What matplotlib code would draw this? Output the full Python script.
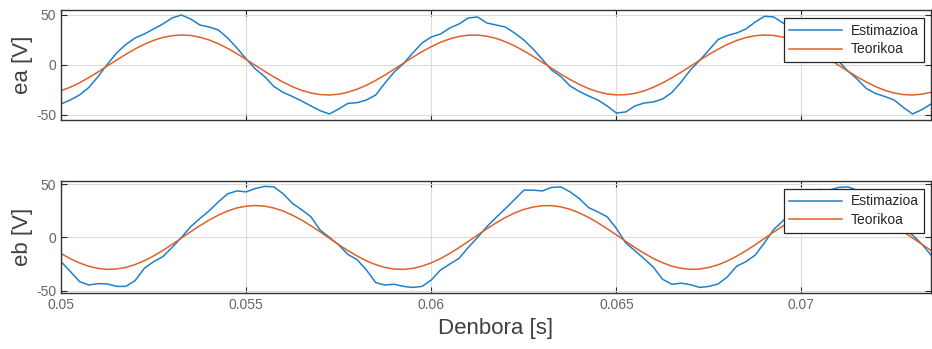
import numpy as np
import matplotlib
matplotlib.use('Agg')
import matplotlib.pyplot as plt

# time axis (s), step 0.25 ms
t_start = 0.05
t_step = 0.00025
n_pts = 95

ea_est = [-39, -35, -30, -22.5, -11.6, 0.7, 12, 20.5, 27, 31,
          36, 41, 47, 50, 46, 40, 38, 35, 27, 17,
          6, -4, -11.6, -21.5, -27.5, -31.5, -36, -41, -45.7, -49,
          -44, -38.4, -37.7, -35, -30, -18, -7, 1.3, 12, 22,
          28, 31, 37, 41, 47, 48, 42, 40, 38, 32,
          25, 16, 5.6, -5, -11.6, -21, -26.5, -31, -35, -41,
          -48, -47, -41, -38, -37, -34, -27.5, -17, -5, 4.6,
          15, 25.5, 29.5, 32, 36, 43, 48.7, 48, 42, 40,
          38, 32, 25, 15.5, 4, -6, -14, -23.5, -28.5, -31.5,
          -35, -42.4, -49, -44.7, -39]

ea_teo = [-25.7, -22.2, -17.8, -12.6, -7.0, -1.0, 4.9, 10.7, 16.0, 20.7,
          24.6, 27.5, 29.3, 30.0, 29.5, 27.8, 25.0, 21.2, 16.6, 11.3,
          5.6, -0.4, -6.3, -12.0, -17.2, -21.7, -25.4, -28.0, -29.6, -30.0,
          -29.2, -27.2, -24.2, -20.2, -15.4, -10.0, -4.2, 1.8, 7.7, 13.3,
          18.3, 22.7, 26.1, 28.5, 29.8, 29.9, 28.8, 26.6, 23.3, 19.1,
          14.1, 8.6, 2.7, -3.2, -9.1, -14.6, -19.5, -23.6, -26.8, -29.0,
          -29.9, -29.7, -28.4, -25.9, -22.3, -17.9, -12.8, -7.2, -1.3, 4.7,
          10.5, 15.8, 20.6, 24.5, 27.4, 29.3, 30.0, 29.5, 27.9, 25.1,
          21.3, 16.7, 11.5, 5.8, -0.2, -6.1, -11.8, -17.0, -21.6, -25.3,
          -28.0, -29.6, -30.0, -29.2, -27.3]

eb_est = [-22.8, -32, -41.5, -44.7, -43.4, -43.7, -46, -46, -40.6, -29,
          -22.8, -18, -9.4, 0, 10, 17.8, 25, 33.4, 41, 43.7,
          42.8, 46, 48, 47.5, 41, 32, 26, 19.4, 6.9, 0,
          -7, -16, -21, -30.6, -42.5, -44.7, -44, -46, -47, -46,
          -40, -30.6, -25, -19.7, -9.4, 0, 10, 18.8, 27, 35.6,
          44.4, 44.4, 43.7, 47, 47.5, 42.8, 36.5, 28, 24, 19.4,
          8.4, -5, -12.5, -20, -28, -39.4, -44, -43, -44.4, -47,
          -46, -43.7, -37, -27, -22.8, -16.6, -5, 7.5, 15.6, 24,
          33.4, 42.8, 45, 44.4, 47, 47.5, 44.4, 36.5, 28.8, 24,
          17.8, 8.4, 2.2, -6.2, -16.6]

eb_teo = [-15.1, -20.0, -24.0, -27.1, -29.1, -30.0, -29.6, -28.2, -25.5, -21.9,
          -17.4, -12.2, -6.6, -0.6, 5.3, 11.0, 16.3, 21.0, 24.8, 27.7,
          29.4, 30.0, 29.4, 27.6, 24.8, 20.9, 16.3, 10.9, 5.2, -0.8,
          -6.7, -12.4, -17.5, -22.0, -25.6, -28.2, -29.7, -30.0, -29.1, -27.0,
          -23.9, -19.9, -15.0, -9.6, -3.8, 2.2, 8.1, 13.6, 18.7, 23.0,
          26.3, 28.6, 29.8, 29.9, 28.7, 26.4, 23.0, 18.8, 13.8, 8.2,
          2.4, -3.6, -9.5, -14.9, -19.8, -23.8, -27.0, -29.0, -30.0, -29.7,
          -28.2, -25.7, -22.1, -17.6, -12.5, -6.9, -0.9, 5.1, 10.8, 16.1,
          20.8, 24.7, 27.6, 29.4, 30.0, 29.5, 27.7, 24.9, 21.1, 16.5,
          11.1, 5.4, -0.5, -6.4, -12.2]

x_ticks = [0.05, 0.055, 0.06, 0.065, 0.07]
x_ticklabels = ['0.05', '0.055', '0.06', '0.065', '0.07']
y_ticks = [-50, 0, 50]

blue = '#1f80c8'
orange = '#e0602a'

plt.rcParams['font.family'] = ['Liberation Sans', 'DejaVu Sans']
plt.rcParams['axes.unicode_minus'] = False


def style_axes(ax, ylim, ylabel):
    ax.set_xlim(0.05, 0.0735)
    ax.set_ylim(*ylim)
    ax.set_xticks(x_ticks)
    ax.set_yticks(y_ticks)
    ax.grid(True, color='#dcdcdc', linewidth=0.8)
    ax.set_axisbelow(True)
    ax.tick_params(direction='in', top=True, right=True, length=4,
                   labelsize=10, colors='#262626', labelcolor='#666666')
    for s in ax.spines.values():
        s.set_color('#333333')
        s.set_linewidth(1.0)
    ax.set_ylabel(ylabel, fontsize=16, color='#404040', labelpad=2)
    leg = ax.legend(loc='upper right', bbox_to_anchor=(0.992, 0.927),
                    borderaxespad=0, fontsize=10, handlelength=3.8,
                    handletextpad=0.6, labelspacing=0.35, borderpad=0.4,
                    fancybox=False, framealpha=1, edgecolor='#262626')
    leg.get_frame().set_linewidth(0.9)
    for txt in leg.get_texts():
        txt.set_color('#262626')


def main():
    t = t_start + t_step * np.arange(n_pts)

    fig = plt.figure(figsize=(9.32, 3.49), dpi=100)
    ax1 = fig.add_axes([0.0655, 0.6562, 0.9335, 0.3152])
    ax2 = fig.add_axes([0.0655, 0.1596, 0.9335, 0.3226])

    ax1.plot(t, ea_est, color=blue, linewidth=1.1, label='Estimazioa')
    ax1.plot(t, ea_teo, color=orange, linewidth=1.1, label='Teorikoa')
    style_axes(ax1, (-55, 55), 'ea [V]')
    ax1.set_xticklabels([])

    ax2.plot(t, eb_est, color=blue, linewidth=1.1, label='Estimazioa')
    ax2.plot(t, eb_teo, color=orange, linewidth=1.1, label='Teorikoa')
    style_axes(ax2, (-52.5, 53.3), 'eb [V]')
    ax2.set_xticklabels(x_ticklabels)
    ax2.set_xlabel('Denbora [s]', fontsize=16, color='#404040', labelpad=4)

    fig.savefig('out.png', dpi=100)


if __name__ == '__main__':
    main()
